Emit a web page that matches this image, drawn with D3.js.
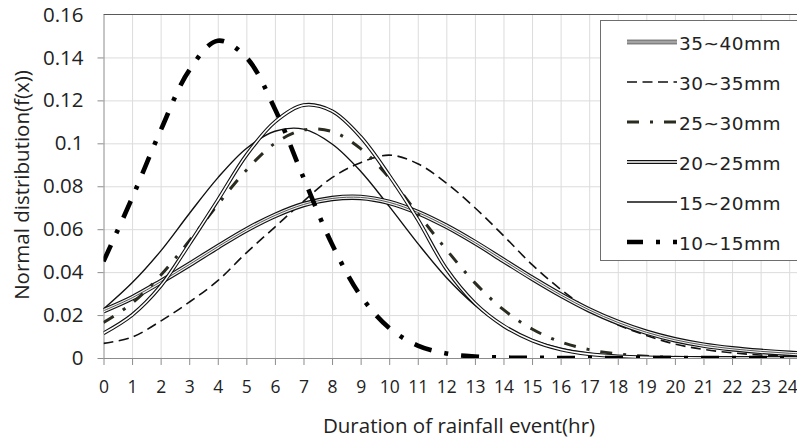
<!DOCTYPE html>
<html>
<head>
<meta charset="utf-8">
<script src="https://cdn.jsdelivr.net/npm/d3@7"></script>
<style>
    body { margin: 0; background: #fff; }
    #chart { width: 797px; height: 441px; }
    .axis path, .axis line { stroke: #8c8c8c; }
    .grid line { stroke: #dcdcdc; }
    .grid path { stroke: none; }
    text { font-family: "Open Sans", sans-serif; fill: #222; }
</style>
</head>
<body>
<div id="chart"></div>
<script>
const hours = [0, 1, 2, 3, 4, 5, 6, 7, 8, 9, 10, 11, 12, 13, 14, 15, 16, 17, 18, 19, 20, 21, 22, 23, 24, 25]
const s35_40 = [0.0220, 0.0280, 0.0355, 0.0435, 0.0518, 0.0597, 0.0664, 0.0715, 0.0743, 0.0748, 0.0725, 0.0678, 0.0614, 0.0538, 0.0455, 0.0372, 0.0294, 0.0224, 0.0166, 0.0120, 0.0085, 0.0060, 0.0043, 0.0031, 0.0022, 0.0016]
const s30_35 = [0.0068, 0.0097, 0.0172, 0.0260, 0.0360, 0.0490, 0.0610, 0.0730, 0.0840, 0.0910, 0.0945, 0.0905, 0.0815, 0.0700, 0.0570, 0.0435, 0.0320, 0.0225, 0.0155, 0.0105, 0.0065, 0.0040, 0.0024, 0.0014, 0.0008, 0.0005]
const s25_30 = [0.0165, 0.0255, 0.0385, 0.0545, 0.0715, 0.0875, 0.1000, 0.1062, 0.1055, 0.0975, 0.0840, 0.0672, 0.0505, 0.0350, 0.0225, 0.0135, 0.0075, 0.0039, 0.0019, 0.0008, 0.0003, 0.0001, 0, 0, 0, 0]
const s20_25 = [0.0115, 0.0200, 0.0335, 0.0530, 0.0735, 0.0945, 0.1100, 0.1178, 0.1150, 0.1030, 0.0850, 0.0645, 0.0415, 0.0255, 0.0150, 0.0082, 0.0040, 0.0018, 0.0008, 0.0003, 0.0001, 0, 0, 0, 0, 0]
const s15_20 = [0.0228, 0.0350, 0.0498, 0.0672, 0.0839, 0.0976, 0.1056, 0.1066, 0.0997, 0.0870, 0.0706, 0.0534, 0.0375, 0.0246, 0.0150, 0.0085, 0.0045, 0.0022, 0.0010, 0.0004, 0.0002, 0.0001, 0, 0, 0, 0]
const s10_15 = [0.0450, 0.0745, 0.1060, 0.1340, 0.1478, 0.1400, 0.1160, 0.0840, 0.0530, 0.0290, 0.0140, 0.0058, 0.0021, 0.0007, 0.0002, 0.0001, 0, 0, 0, 0, 0, 0, 0, 0, 0, 0]
const seriesNames = ["35~40mm", "30~35mm", "25~30mm", "20~25mm", "15~20mm", "10~15mm"]
const xTicks = [0, 1, 2, 3, 4, 5, 6, 7, 8, 9, 10, 11, 12, 13, 14, 15, 16, 17, 18, 19, 20, 21, 22, 23, 24]
const yTicks = [0, 0.02, 0.04, 0.06, 0.08, 0.1, 0.12, 0.14, 0.16]

// line look per series (outer stroke first, inner strokes on top)
const styles = {
    "35~40mm": [{ w: 5.5, c: "#111" }, { w: 3.2, c: "#f2f2f2" }, { w: 1, c: "#555" }],
    "30~35mm": [{ w: 1.6, c: "#111", dash: "10,5.5" }],
    "25~30mm": [{ w: 3, c: "#2b2b20", dash: "12,11,3,11" }],
    "20~25mm": [{ w: 3.8, c: "#111" }, { w: 1.6, c: "#fff" }],
    "15~20mm": [{ w: 1.4, c: "#111" }],
    "10~15mm": [{ w: 4.6, c: "#000", dash: "18,13,4,13" }]
}
const seriesValues = [s35_40, s30_35, s25_30, s20_25, s15_20, s10_15]

const area = document.querySelector("#chart")
const W = 797, H = 441
const plot = { left: 103.5, top: 14.5, bottom: 358 }
const svg = d3.select(area).append("svg")
    .attr("width", W)
    .attr("height", H)

const xScale = d3.scaleLinear()
    .domain([0, 24.5])
    .range([plot.left, plot.left + 24.5 * 28.57])
const yScale = d3.scaleLinear()
    .domain([0, 0.16])
    .range([plot.bottom, plot.top])

//Draw grid
svg.append("g")
    .attr("class", "grid")
    .attr("transform", `translate(0,${plot.bottom})`)
    .call(d3.axisBottom(xScale).tickValues(xTicks.slice(1)).tickSize(-(plot.bottom - plot.top)).tickFormat(""))
svg.append("g")
    .attr("class", "grid")
    .attr("transform", `translate(${plot.left},0)`)
    .call(d3.axisLeft(yScale).tickValues(yTicks.slice(1, -1)).tickSize(-(W - plot.left)).tickFormat(""))
//End Draw grid

// top border
svg.append("line")
    .attr("x1", plot.left).attr("x2", W)
    .attr("y1", yScale(0.16)).attr("y2", yScale(0.16))
    .style("stroke", "#595959")

// axes
const xAxis = svg.append("g")
    .attr("class", "axis")
    .attr("transform", `translate(0,${plot.bottom})`)
    .call(d3.axisBottom(xScale).tickValues(xTicks).tickSize(7).tickSizeOuter(0).tickPadding(16))
xAxis.select(".domain").attr("d", `M${plot.left},0.5H${W}`)
xAxis.selectAll("text")
    .style("font-size", "17.5px")
    .style("fill", "#222")
// last label sits right against the window edge
xAxis.selectAll("text").filter((d) => d === 24).attr("dx", -2)

const yAxis = svg.append("g")
    .attr("class", "axis")
    .attr("transform", `translate(${plot.left},0)`)
    .call(d3.axisLeft(yScale).tickValues(yTicks).tickSize(6).tickSizeOuter(0).tickPadding(14)
        .tickFormat((d) => d === 0 ? "0" : String(+d.toFixed(2))))
yAxis.selectAll("text")
    .style("font-size", "20.5px")
    .style("fill", "#222")
yAxis.selectAll(".tick line").filter((d) => d === 0.16).remove()

// curves
const defs = svg.append("defs")
defs.append("clipPath").attr("id", "clip")
    .append("rect")
    .attr("x", plot.left).attr("y", plot.top - 10)
    .attr("width", W - plot.left).attr("height", plot.bottom - plot.top + 10)

const line = d3.line()
    .x((d) => xScale(d.x))
    .y((d) => yScale(d.y))
    .curve(d3.curveCatmullRom.alpha(0.5))

const curves = svg.append("g").attr("clip-path", "url(#clip)")
const drawOrder = [4, 1, 0, 2, 3, 5]
drawOrder.forEach(function (i) {
    const name = seriesNames[i]
    const pts = hours.map((h, k) => ({ x: h, y: seriesValues[i][k] }))
    styles[name].forEach(function (st) {
        curves.append("path")
            .datum(pts)
            .attr("d", line)
            .style("fill", "none")
            .style("stroke", st.c)
            .style("stroke-width", st.w)
            .style("stroke-dasharray", st.dash || null)
    })
})

//Legend
const legend = svg.append("g")
legend.append("rect")
    .attr("x", 600.5).attr("y", 20.5)
    .attr("width", 205).attr("height", 240)
    .style("fill", "#fff")
    .style("stroke", "#6e6e6e")
seriesNames.forEach(function (name, i) {
    const y = 42 + i * 40
    styles[name].forEach(function (st) {
        legend.append("line")
            .attr("x1", 627).attr("x2", 677)
            .attr("y1", y).attr("y2", y)
            .style("stroke", st.c)
            .style("stroke-width", Math.min(st.w, 4.5))
            .style("stroke-dasharray", st.dash ? st.dash.replace("18,13", "16,13") : null)
    })
    legend.append("text")
        .attr("x", 679)
        .attr("y", y + 8)
        .style("font-family", "'DejaVu Sans', sans-serif")
        .style("font-size", "18.5px")
        .style("letter-spacing", "0.5px")
        .text(name)
})
//End Legend

//y Axis Title
svg.append("text")
    .attr("transform", "translate(29,185) rotate(-90)")
    .attr("text-anchor", "middle")
    .style("font-size", "20.5px")
    .text("Normal distribution(f(x))")

//x Axis Title
svg.append("text")
    .attr("x", 459)
    .attr("y", 433)
    .attr("text-anchor", "middle")
    .style("font-size", "20.5px")
    .text("Duration of rainfall event(hr)")
</script>
</body>
</html>
